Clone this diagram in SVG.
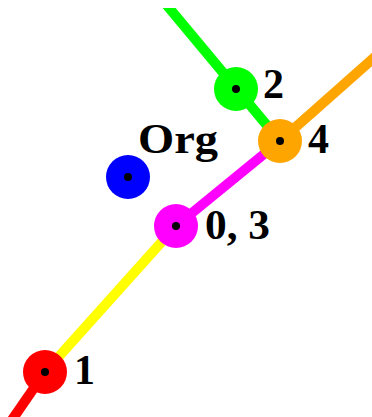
<svg xmlns="http://www.w3.org/2000/svg" width="372" height="417" viewBox="0 0 372 417">
<style>
.ln{stroke-width:10;fill:none;stroke-linecap:butt}
.dot{fill:#000}
.lbl{font-family:"Liberation Serif","Times New Roman",serif;font-weight:bold;font-size:42px;fill:#000}
</style>
<defs>
<clipPath id="top"><rect x="0" y="8" width="372" height="409"/></clipPath>
</defs>
<rect width="372" height="417" fill="#fff"/>
<g id="connectors">
<line class="ln" stroke="#00ff00" x1="160" y1="-3" x2="280" y2="141" clip-path="url(#top)"/>
<line class="ln" stroke="#ffa500" x1="280" y1="141" x2="385" y2="48"/>
<line class="ln" stroke="#ff00ff" x1="280" y1="141" x2="176" y2="226"/>
<line class="ln" stroke="#ffff00" x1="176" y1="226" x2="45" y2="372"/>
<line class="ln" stroke="#ff0000" x1="45" y1="372" x2="5" y2="430"/>
</g>
<g id="node-2">
<circle cx="236" cy="89" r="22" fill="#00ff00"/>
<circle class="dot" cx="236" cy="89" r="4"/>
<text class="lbl" x="263" y="98">2</text>
</g>
<g id="node-4">
<circle cx="280" cy="141" r="22" fill="#ffa500"/>
<circle class="dot" cx="280" cy="141" r="4"/>
<text class="lbl" x="308" y="153">4</text>
</g>
<g id="node-org">
<circle cx="128" cy="177" r="22" fill="#0000ff"/>
<circle class="dot" cx="128" cy="177" r="4"/>
<text class="lbl" x="138" y="153" textLength="80" lengthAdjust="spacingAndGlyphs">Org</text>
</g>
<g id="node-0-3">
<circle cx="176" cy="226" r="22" fill="#ff00ff"/>
<circle class="dot" cx="176" cy="226" r="4"/>
<text class="lbl" x="205" y="239" textLength="65" lengthAdjust="spacingAndGlyphs">0, 3</text>
</g>
<g id="node-1">
<circle cx="45" cy="372" r="22" fill="#ff0000"/>
<circle class="dot" cx="45" cy="372" r="4"/>
<text class="lbl" x="74" y="384">1</text>
</g>
</svg>
